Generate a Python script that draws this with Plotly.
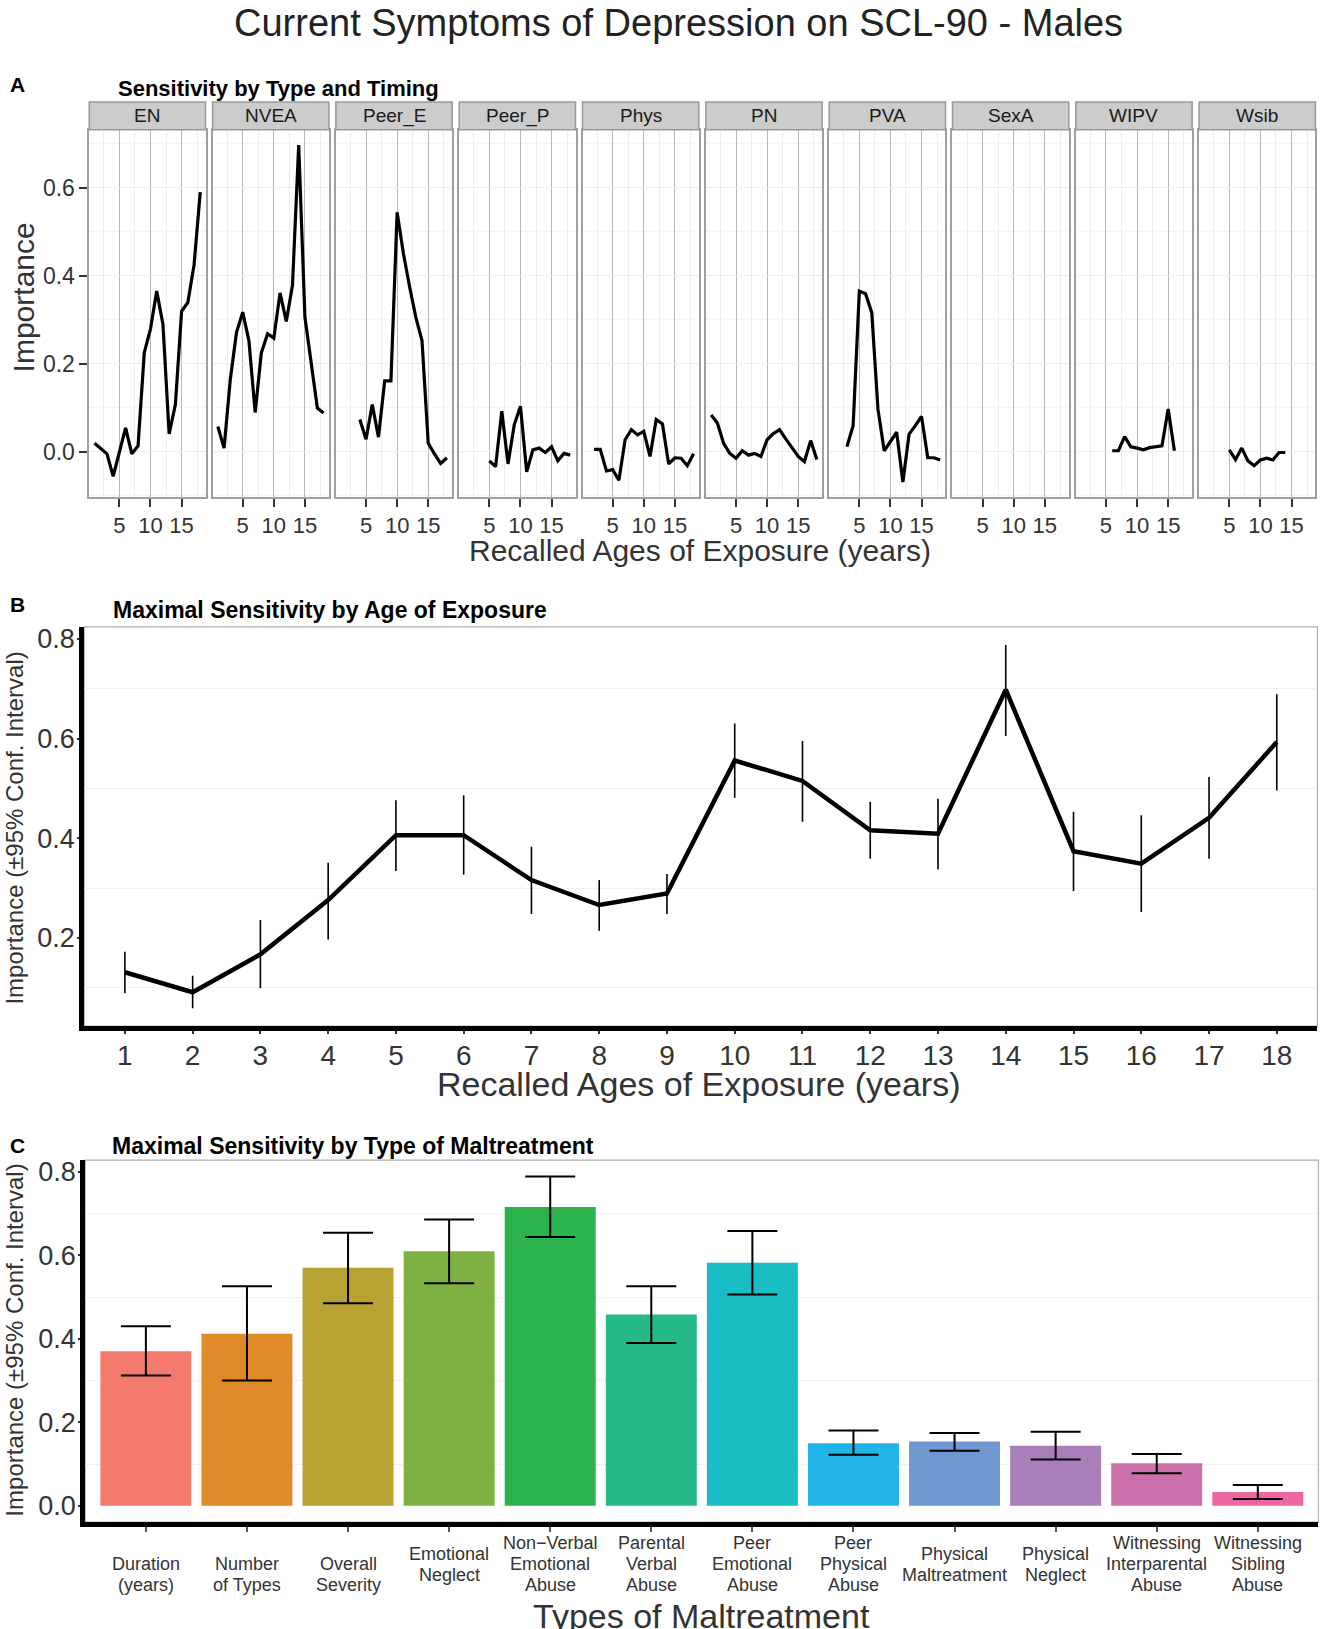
import plotly.graph_objects as go

# -------------------------
# DATA
# -------------------------
# Panel A: importance by recalled age, one list per maltreatment type
facet_names = ["EN", "NVEA", "Peer_E", "Peer_P", "Phys", "PN", "PVA", "SexA", "WIPV", "Wsib"]

en_age = list(range(1, 19))
en_imp = [0.019, 0.008, -0.005, -0.056, -0.002, 0.054, -0.005, 0.013, 0.225,
          0.279, 0.365, 0.290, 0.040, 0.107, 0.319, 0.339, 0.424, 0.590]

nvea_age = list(range(1, 19))
nvea_imp = [0.057, 0.008, 0.164, 0.271, 0.317, 0.252, 0.089, 0.225, 0.268,
            0.258, 0.361, 0.296, 0.378, 0.697, 0.306, 0.203, 0.099, 0.088]

peer_e_age = list(range(4, 19))
peer_e_imp = [0.073, 0.028, 0.107, 0.033, 0.161, 0.161, 0.544, 0.451, 0.375,
              0.306, 0.252, 0.019, -0.005, -0.027, -0.014]

peer_p_age = list(range(5, 19))
peer_p_imp = [-0.021, -0.034, 0.092, -0.028, 0.061, 0.103, -0.046, 0.004,
              0.008, -0.002, 0.011, -0.021, -0.004, -0.008]

phys_age = list(range(2, 19))
phys_imp = [0.005, 0.005, -0.044, -0.041, -0.065, 0.027, 0.050, 0.038, 0.046,
            -0.011, 0.073, 0.063, -0.028, -0.014, -0.015, -0.032, -0.005]

pn_age = list(range(1, 19))
pn_imp = [0.083, 0.065, 0.019, -0.004, -0.015, 0.002, -0.008, -0.004, -0.011,
          0.027, 0.041, 0.050, 0.029, 0.008, -0.011, -0.023, 0.025, -0.018]

pva_age = list(range(3, 19))
pva_imp = [0.011, 0.059, 0.365, 0.359, 0.316, 0.096, 0.002, 0.023, 0.044,
           -0.069, 0.040, 0.059, 0.080, -0.014, -0.014, -0.019]

sexa_age = []
sexa_imp = []

wipv_age = list(range(6, 17))
wipv_imp = [0.002, 0.002, 0.034, 0.011, 0.008, 0.004, 0.009, 0.011, 0.013, 0.097, 0.002]

wsib_age = list(range(5, 15))
wsib_imp = [0.004, -0.018, 0.008, -0.021, -0.032, -0.019, -0.015, -0.019, -0.002, -0.002]

facet_ages = [en_age, nvea_age, peer_e_age, peer_p_age, phys_age,
              pn_age, pva_age, sexa_age, wipv_age, wsib_age]
facet_imps = [en_imp, nvea_imp, peer_e_imp, peer_p_imp, phys_imp,
              pn_imp, pva_imp, sexa_imp, wipv_imp, wsib_imp]

# Panel B: maximal sensitivity by age
age_b = list(range(1, 19))
imp_b = [0.131, 0.091, 0.167, 0.276, 0.406, 0.406, 0.316, 0.266, 0.289,
         0.556, 0.515, 0.416, 0.409, 0.698, 0.374, 0.349, 0.441, 0.593]
lo_b = [0.089, 0.059, 0.099, 0.197, 0.334, 0.327, 0.248, 0.214, 0.248,
        0.481, 0.433, 0.359, 0.338, 0.605, 0.294, 0.252, 0.359, 0.496]
hi_b = [0.172, 0.124, 0.236, 0.351, 0.476, 0.486, 0.383, 0.316, 0.328,
        0.630, 0.595, 0.473, 0.479, 0.788, 0.453, 0.446, 0.523, 0.689]

# Panel C: maximal sensitivity by type
type_names = ["Duration (years)", "Number of Types", "Overall Severity",
              "Emotional Neglect", "Non-Verbal Emotional Abuse", "Parental Verbal Abuse",
              "Peer Emotional Abuse", "Peer Physical Abuse", "Physical Maltreatment",
              "Physical Neglect", "Witnessing Interparental Abuse", "Witnessing Sibling Abuse"]
type_labels = ["\nDuration\n(years)", "\nNumber\nof Types", "\nOverall\nSeverity",
               "Emotional\nNeglect", "Non\u2212Verbal\nEmotional\nAbuse",
               "Parental\nVerbal\nAbuse", "Peer\nEmotional\nAbuse",
               "Peer\nPhysical\nAbuse", "Physical\nMaltreatment", "Physical\nNeglect",
               "Witnessing\nInterparental\nAbuse", "Witnessing\nSibling\nAbuse"]
imp_c = [0.370, 0.412, 0.570, 0.610, 0.716, 0.458, 0.582, 0.150, 0.154, 0.144, 0.102, 0.033]
lo_c = [0.312, 0.300, 0.485, 0.533, 0.644, 0.390, 0.506, 0.122, 0.132, 0.111, 0.078, 0.016]
hi_c = [0.430, 0.526, 0.654, 0.686, 0.789, 0.526, 0.658, 0.180, 0.174, 0.177, 0.124, 0.050]
bar_colors = ["#F47A6E", "#E08B29", "#B8A233", "#7EB042", "#2DB34D", "#25B98A",
              "#19BDC4", "#21B4E8", "#6E98CF", "#A87FB9", "#CC70AC", "#EF66A3"]

# -------------------------
# LAYOUT HELPERS (reference pixel -> paper fraction)
# -------------------------
# figure size that came out matching the reference picture's scale
FIG_W, FIG_H = 1336, 1645
SPAN_X, SPAN_Y = 1332.5, 1629
FONT = "Liberation Sans, Arial, Helvetica, sans-serif"


def fx(p):
    return p / SPAN_X


def fy(p):
    return 1 - p / SPAN_Y


fig = go.Figure()
annotations = []
shapes = []

# -------------------------
# PANEL A
# -------------------------
a_top, a_bot, strip_top = 125.7, 490, 98.3
for i, name in enumerate(facet_names):
    k = "" if i == 0 else str(i + 1)
    left = 89 + 123 * i
    right = left + 116
    fig.add_trace(go.Scatter(
        x=facet_ages[i], y=facet_imps[i], mode="lines",
        line=dict(color="black", width=3.2),
        xaxis="x" + k, yaxis="y" + k, showlegend=False, hoverinfo="skip"))
    fig.update_layout(**{
        "xaxis" + k: dict(
            domain=[fx(left), fx(right)], anchor="y" + k, range=[0.15, 18.85],
            tickvals=[5, 10, 15], ticks="outside", ticklen=8, tickwidth=1.5, tickcolor="#333",
            showline=True, linecolor="#A0A0A0", linewidth=1.5, mirror=True,
            showgrid=True, gridcolor="#B8B8B8", gridwidth=1.4, zeroline=False,
            minor=dict(tickvals=[2.5, 7.5, 12.5, 17.5], showgrid=True,
                       gridcolor="#EDEDED", gridwidth=1),
            tickfont=dict(size=22, color="#333", family=FONT)),
        "yaxis" + k: dict(
            domain=[fy(a_bot), fy(a_top)], anchor="x" + k, range=[-0.103, 0.732],
            tickvals=[0, 0.2, 0.4, 0.6], ticktext=["0.0", "0.2", "0.4", "0.6"],
            showticklabels=(i == 0), ticks="outside" if i == 0 else "",
            ticklen=8, tickwidth=1.5, tickcolor="#333",
            showline=True, linecolor="#A0A0A0", linewidth=1.5, mirror=True,
            showgrid=True, gridcolor="#EDEDED", gridwidth=1, zeroline=False,
            minor=dict(tickvals=[-0.1, 0.1, 0.3, 0.5, 0.7], showgrid=True,
                       gridcolor="#F6F6F6", gridwidth=1),
            tickfont=dict(size=23, color="#333", family=FONT)),
    })
    shapes.append(dict(type="rect", xref="paper", yref="paper",
                       x0=fx(left), x1=fx(right), y0=fy(a_top), y1=fy(strip_top),
                       fillcolor="#CCCCCC", line=dict(color="#999999", width=1.5)))
    annotations.append(dict(x=fx((left + right) / 2), y=fy((a_top + strip_top) / 2),
                            xref="paper", yref="paper", xanchor="center", yanchor="middle",
                            text=name, showarrow=False,
                            font=dict(size=19, color="#1a1a1a", family=FONT)))

# -------------------------
# PANEL B
# -------------------------
fig.add_trace(go.Scatter(
    x=age_b, y=imp_b, mode="lines", line=dict(color="black", width=4.5),
    error_y=dict(type="data", symmetric=False,
                 array=[h - v for h, v in zip(hi_b, imp_b)],
                 arrayminus=[v - l for v, l in zip(imp_b, lo_b)],
                 color="black", thickness=1.6, width=0),
    xaxis="x11", yaxis="y11", showlegend=False, hoverinfo="skip"))

fig.update_layout(
    xaxis11=dict(domain=[fx(84), fx(1314)], anchor="y11", range=[0.4, 18.6],
                 tickvals=age_b, ticks="outside", ticklen=3, tickwidth=1.5, tickcolor="#333",
                 ticklabelstandoff=-3,
                 showline=True, linecolor="black", linewidth=5, showgrid=False, zeroline=False,
                 tickfont=dict(size=28, color="#333", family=FONT)),
    yaxis11=dict(domain=[fy(1015), fy(619)], anchor="x11", range=[0.023, 0.824],
                 tickvals=[0.2, 0.4, 0.6, 0.8], ticktext=["0.2", "0.4", "0.6", "0.8"],
                 ticks="outside", ticklen=2, tickwidth=1.5, tickcolor="#333",
                 ticklabelstandoff=-3,
                 showline=True, linecolor="black", linewidth=5, showgrid=False, zeroline=False,
                 minor=dict(tickvals=[0.1, 0.3, 0.5, 0.7], showgrid=True,
                            gridcolor="#F2F2F2", gridwidth=1),
                 tickfont=dict(size=27, color="#333", family=FONT)),
)
shapes.append(dict(type="rect", xref="x11 domain", yref="y11 domain", x0=0, x1=1, y0=0, y1=1,
                   line=dict(color="#B0B0B0", width=1.2), layer="below"))

# -------------------------
# PANEL C
# -------------------------
fig.add_trace(go.Bar(
    x=type_names, y=imp_c, width=0.9, marker=dict(color=bar_colors, line=dict(width=0)),
    error_y=dict(type="data", symmetric=False,
                 array=[h - v for h, v in zip(hi_c, imp_c)],
                 arrayminus=[v - l for v, l in zip(imp_c, lo_c)],
                 color="black", thickness=2, width=25),
    xaxis="x12", yaxis="y12", showlegend=False, hoverinfo="skip"))

fig.update_layout(
    xaxis12=dict(domain=[fx(85), fx(1315)], anchor="y12", type="category",
                 range=[-0.6, 11.6], showticklabels=False,
                 ticks="outside", ticklen=5, tickwidth=1.5, tickcolor="#555",
                 showline=True, linecolor="black", linewidth=5, showgrid=False, zeroline=False),
    yaxis12=dict(domain=[fy(1507), fy(1148)], anchor="x12", range=[-0.039, 0.828],
                 tickvals=[0, 0.2, 0.4, 0.6, 0.8],
                 ticktext=["0.0", "0.2", "0.4", "0.6", "0.8"],
                 ticks="outside", ticklen=2, tickwidth=1.5, tickcolor="#333",
                 ticklabelstandoff=-3,
                 showline=True, linecolor="black", linewidth=5, showgrid=False, zeroline=False,
                 minor=dict(tickvals=[0.1, 0.3, 0.5, 0.7], showgrid=True,
                            gridcolor="#F2F2F2", gridwidth=1),
                 tickfont=dict(size=27, color="#333", family=FONT)),
)
shapes.append(dict(type="rect", xref="x12 domain", yref="y12 domain", x0=0, x1=1, y0=0, y1=1,
                   line=dict(color="#B0B0B0", width=1.2), layer="below"))

# category labels, one annotation per line so the line spacing can be kept tight
for name, lab in zip(type_names, type_labels):
    lines = lab.split("\n")
    n = len(lines)
    for j, line in enumerate(lines):
        if not line:
            continue
        annotations.append(dict(
            x=name, xref="x12", y=fy(1549 + (j - (n - 1) / 2) * 20.7), yref="paper",
            xanchor="center", yanchor="middle", text=line, showarrow=False,
            font=dict(size=18, color="#333", family=FONT)))


# -------------------------
# TITLES AND LABELS
# -------------------------
def label(text, x, y, size, bold=False, xanchor="center", yanchor="middle", angle=0,
          color="#1a1a1a"):
    annotations.append(dict(
        x=fx(x), y=fy(y), xref="paper", yref="paper", xanchor=xanchor, yanchor=yanchor,
        text="<b>%s</b>" % text if bold else text, showarrow=False, textangle=angle,
        font=dict(size=size, color=color, family=FONT)))


label("Current Symptoms of Depression on SCL-90 - Males", 677, 20, 38, color="#222")

label("A", 8, 81, 21, bold=True, xanchor="left", color="black")
label("Sensitivity by Type and Timing", 116, 85, 22, bold=True, xanchor="left", color="black")
label("Recalled Ages of Exposure (years)", 698, 543, 30, color="#333")
label("Importance", 23, 292, 30, angle=-90, color="#333")

label("B", 8, 597, 21, bold=True, xanchor="left", color="black")
label("Maximal Sensitivity by Age of Exposure", 111, 602, 23, bold=True, xanchor="left",
      color="black")
label("Recalled Ages of Exposure (years)", 697, 1072, 34, color="#333")
label("Importance (\u00b195% Conf. Interval)", 14, 819, 24, angle=-90, color="#333")

label("C", 8, 1133, 21, bold=True, xanchor="left", color="black")
label("Maximal Sensitivity by Type of Maltreatment", 110, 1134, 23, bold=True,
      xanchor="left", color="black")
label("Types of Maltreatment", 700, 1600, 34, color="#333")
label("Importance (\u00b195% Conf. Interval)", 15, 1327, 24, angle=-90, color="#333")

fig.update_layout(
    width=FIG_W, height=FIG_H,
    margin=dict(l=0, r=0, t=0, b=0),
    paper_bgcolor="white", plot_bgcolor="white",
    font=dict(family=FONT, color="#333"),
    annotations=annotations, shapes=shapes,
    showlegend=False,
)

# drop the default page margin so the figure sits at the window's corner
fig.write_html("out.html", config={"displayModeBar": False},
               post_script="document.body.style.margin='0';")
